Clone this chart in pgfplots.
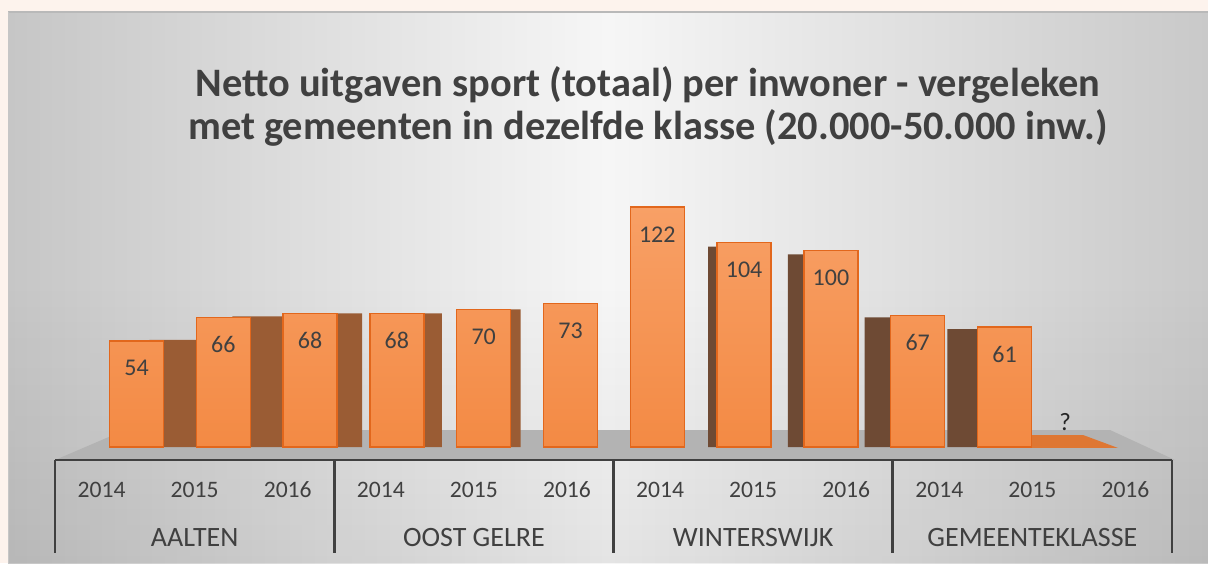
\documentclass[border=0pt]{standalone}
\usepackage{fontspec}
\setmainfont{Carlito}
\usepackage{pgfplots}
\pgfplotsset{compat=1.18}
\usepackage{pgfplotstable}
\usetikzlibrary{fadings}
\definecolor{peach}{HTML}{FDF3ED}
\definecolor{txt}{HTML}{404040}
\definecolor{bartop}{HTML}{F8A066}
\definecolor{barbot}{HTML}{F38A44}
\definecolor{baredge}{HTML}{E2671C}
\definecolor{sideA}{HTML}{9A5C34}
\definecolor{sideB}{HTML}{6E4A34}
\definecolor{floorc}{HTML}{B3B3B3}
\definecolor{flatbar}{HTML}{DE7733}
\definecolor{panelL}{HTML}{C6C6C6}
\definecolor{panelM}{HTML}{F6F6F6}
\definecolor{panelR}{HTML}{C9C9C9}

\pgfplotstableread{
x y
0 54
1 66
2 68
3 68
4 70
5 73
6 122
7 104
8 100
9 67
10 61
}\bars

\begin{document}
\begin{tikzpicture}
\useasboundingbox (0,0) rectangle (604pt,281.5pt);
% background
\fill[peach] (0,0) rectangle (604pt,281.5pt);
\shade[left color=panelL, right color=panelR, middle color=panelM] (4pt,0) rectangle (604pt,275.5pt);
\fill[black, path fading=north, opacity=0.07] (4pt,0) rectangle (604pt,140pt);
\draw[gray!55, line width=0.6pt] (4pt,275.5pt) -- (604pt,275.5pt);
\draw[gray!45, line width=0.5pt] (4pt,0) -- (4pt,275.5pt);
% title
\node[txt, font=\bfseries\fontsize{20.2}{22}\selectfont, anchor=base] at (324pt,233pt) {Netto uitgaven sport (totaal) per inwoner - vergeleken};
\node[txt, font=\bfseries\fontsize{20.2}{22}\selectfont, anchor=base] at (324pt,211.5pt) {met gemeenten in dezelfde klasse (20.000-50.000 inw.)};
% floor
\fill[floorc] (27.5pt,51.5pt) -- (62.5pt,66.5pt) -- (555pt,66.5pt) -- (587.5pt,51.5pt) -- cycle;

% bars
\begin{axis}[at={(24.85pt,58pt)}, anchor=south west, scale only axis,
  width=564.2pt, height=127.75pt,
  xmin=-1, xmax=12, ymin=0, ymax=130,
  axis lines=none, ybar, bar width=27pt, bar shift=0pt, clip=false,
  /pgf/number format/assume math mode=true]
\addplot[fill=sideA, draw=none] coordinates {(0.46,54.5) (1.415,66.5) (2.288,68) (3.207,68) (4.115,70)};
\addplot[fill=sideB, draw=none] coordinates {(6.896,102) (7.816,98) (8.70,66) (9.654,60)};
\addplot[top color=bartop, bottom color=barbot, draw=baredge, line width=0.75pt,
  nodes near coords,
  every node near coord/.append style={anchor=center, yshift=-13.5pt, text=txt, font=\fontsize{12}{14}\selectfont}]
  table[x=x,y=y] {\bars};
\addplot[fill=flatbar, draw=none, sharp plot] coordinates {(10.317,-0.5) (11.308,-0.5) (10.905,6.1) (10.317,6.1) (10.317,-0.5)};
\node[text=black!85, font=\fontsize{12.5}{14}\selectfont] at (axis cs:10.7,12.7) {?};
\end{axis}

% category axis
\begin{axis}[at={(27.5pt,51.5pt)}, anchor=south west, scale only axis,
  width=558.5pt, height=20pt,
  xmin=-0.5, xmax=11.5, ymin=0, ymax=1,
  hide y axis, axis x line*=bottom,
  x axis line style={txt, line width=1.3pt},
  xtick={0,...,11}, major tick length=0pt,
  xticklabels={2014,2015,2016,2014,2015,2016,2014,2015,2016,2014,2015,2016},
  xticklabel style={anchor=base, yshift=-18.5pt, text=txt, font=\fontsize{11.8}{13}\selectfont},
  clip=false]
\addplot[draw=none] coordinates {(0,0)};
\draw[txt, line width=1.3pt] (axis cs:-0.5,0) -- ++(0pt,-46.5pt);
\draw[txt, line width=1.3pt] (axis cs:2.5,0) -- ++(0pt,-46.5pt);
\draw[txt, line width=1.3pt] (axis cs:5.5,0) -- ++(0pt,-46.5pt);
\draw[txt, line width=1.3pt] (axis cs:8.5,0) -- ++(0pt,-46.5pt);
\draw[txt, line width=1.3pt] (axis cs:11.5,0) -- ++(0pt,-46.5pt);
\node[txt, anchor=base, yshift=-43pt, font=\fontsize{14}{16}\selectfont] at (axis cs:1,0) {AALTEN};
\node[txt, anchor=base, yshift=-43pt, font=\fontsize{14}{16}\selectfont] at (axis cs:4,0) {OOST GELRE};
\node[txt, anchor=base, yshift=-43pt, font=\fontsize{14}{16}\selectfont] at (axis cs:7,0) {WINTERSWIJK};
\node[txt, anchor=base, yshift=-43pt, font=\fontsize{14}{16}\selectfont] at (axis cs:10,0) {GEMEENTEKLASSE};
\end{axis}
\end{tikzpicture}
\end{document}
